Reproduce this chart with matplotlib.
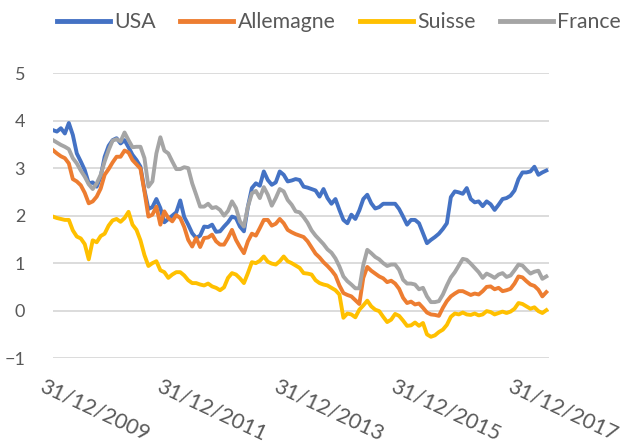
import numpy as np
import matplotlib
matplotlib.use("Agg")
import matplotlib.pyplot as plt
from matplotlib.transforms import ScaledTranslation

# 10-year yields (%), one reading per ~3 weeks
usa = [3.80, 3.77, 3.84, 3.73, 3.95, 3.70, 3.31, 3.14, 2.96, 2.68,
       2.70, 2.61, 2.82, 3.24, 3.47, 3.59, 3.63, 3.52, 3.59, 3.44,
       3.28, 3.17, 3.03, 2.54, 2.14, 2.18, 2.35, 2.16, 1.86, 1.93,
       2.00, 2.07, 2.32, 1.97, 1.81, 1.63, 1.53, 1.58, 1.77, 1.76,
       1.81, 1.66, 1.67, 1.77, 1.86, 1.98, 1.95, 1.77, 1.67, 2.19,
       2.58, 2.68, 2.63, 2.93, 2.75, 2.65, 2.70, 2.93, 2.86, 2.72,
       2.74, 2.77, 2.75, 2.61, 2.59, 2.56, 2.53, 2.40, 2.56, 2.37,
       2.25, 2.35, 2.12, 1.91, 1.84, 2.02, 1.93, 2.11, 2.35, 2.44,
       2.26, 2.15, 2.18, 2.25, 2.25, 2.25, 2.25, 2.14, 1.98, 1.81,
       1.91, 1.91, 1.84, 1.63, 1.42, 1.49, 1.55, 1.62, 1.72, 1.84,
       2.39, 2.51, 2.49, 2.46, 2.58, 2.35, 2.28, 2.30, 2.20, 2.30,
       2.24, 2.12, 2.23, 2.35, 2.37, 2.42, 2.53, 2.77, 2.91, 2.91,
       2.93, 3.03, 2.86, 2.91, 2.95]

allemagne = [3.38, 3.31, 3.25, 3.21, 3.10, 2.77, 2.72, 2.64, 2.48, 2.26,
             2.30, 2.40, 2.57, 2.86, 2.98, 3.12, 3.24, 3.24, 3.37, 3.33,
             3.17, 3.08, 2.99, 2.51, 1.98, 2.02, 2.19, 1.81, 2.09, 1.95,
             1.88, 2.01, 1.95, 1.76, 1.49, 1.35, 1.53, 1.34, 1.53, 1.54,
             1.60, 1.46, 1.39, 1.39, 1.53, 1.70, 1.49, 1.34, 1.21, 1.46,
             1.62, 1.58, 1.74, 1.91, 1.91, 1.79, 1.83, 1.93, 1.84, 1.70,
             1.65, 1.61, 1.58, 1.55, 1.46, 1.33, 1.20, 1.12, 1.02, 0.94,
             0.85, 0.74, 0.53, 0.37, 0.33, 0.30, 0.22, 0.14, 0.69, 0.92,
             0.84, 0.78, 0.72, 0.68, 0.60, 0.63, 0.57, 0.46, 0.27, 0.16,
             0.19, 0.13, 0.15, 0.06, -0.04, -0.08, -0.09, -0.11, 0.06, 0.20,
             0.30, 0.36, 0.41, 0.41, 0.37, 0.33, 0.36, 0.34, 0.41, 0.50,
             0.51, 0.45, 0.48, 0.41, 0.43, 0.46, 0.57, 0.72, 0.70, 0.62,
             0.55, 0.52, 0.44, 0.30, 0.39]

suisse = [1.98, 1.95, 1.93, 1.91, 1.91, 1.69, 1.56, 1.52, 1.40, 1.08,
          1.48, 1.44, 1.57, 1.62, 1.79, 1.90, 1.93, 1.87, 1.95, 2.08,
          1.81, 1.70, 1.48, 1.17, 0.94, 1.00, 1.04, 0.85, 0.81, 0.69,
          0.76, 0.81, 0.81, 0.74, 0.64, 0.58, 0.58, 0.55, 0.53, 0.57,
          0.51, 0.48, 0.43, 0.49, 0.69, 0.79, 0.76, 0.68, 0.58, 0.79,
          1.02, 1.00, 1.05, 1.14, 1.03, 0.99, 0.97, 1.04, 1.14, 1.04,
          1.00, 0.95, 0.90, 0.79, 0.78, 0.76, 0.64, 0.58, 0.55, 0.53,
          0.48, 0.43, 0.34, -0.15, -0.06, -0.08, -0.14, 0.02, 0.11, 0.21,
          0.09, 0.02, -0.01, -0.13, -0.24, -0.19, -0.07, -0.11, -0.21, -0.32,
          -0.31, -0.25, -0.32, -0.26, -0.50, -0.55, -0.52, -0.45, -0.40, -0.30,
          -0.13, -0.06, -0.08, -0.04, -0.08, -0.09, -0.06, -0.10, -0.08, -0.01,
          -0.03, -0.08, -0.05, -0.02, -0.05, -0.02, 0.04, 0.16, 0.14, 0.09,
          0.04, 0.07, -0.01, -0.05, 0.01]

france = [3.59, 3.54, 3.49, 3.45, 3.40, 3.21, 3.10, 2.95, 2.82, 2.66,
          2.56, 2.68, 2.86, 3.14, 3.38, 3.58, 3.61, 3.56, 3.75, 3.59,
          3.44, 3.45, 3.45, 3.21, 2.61, 2.72, 3.31, 3.65, 3.37, 3.31,
          3.14, 2.98, 2.98, 3.02, 3.00, 2.68, 2.44, 2.19, 2.19, 2.25,
          2.16, 2.18, 2.12, 2.00, 2.10, 2.30, 2.16, 1.88, 1.77, 2.19,
          2.47, 2.52, 2.37, 2.60, 2.44, 2.21, 2.37, 2.56, 2.51, 2.33,
          2.23, 2.09, 2.07, 1.97, 1.85, 1.69, 1.58, 1.49, 1.40, 1.29,
          1.22, 1.10, 0.93, 0.72, 0.62, 0.55, 0.47, 0.47, 0.96, 1.28,
          1.21, 1.13, 1.08, 1.00, 0.94, 0.97, 0.97, 0.86, 0.65, 0.57,
          0.57, 0.55, 0.45, 0.48, 0.30, 0.18, 0.18, 0.20, 0.34, 0.53,
          0.70, 0.81, 0.95, 1.09, 1.07, 0.99, 0.90, 0.81, 0.69, 0.78,
          0.74, 0.69, 0.76, 0.79, 0.71, 0.74, 0.85, 0.97, 0.95, 0.86,
          0.78, 0.82, 0.84, 0.67, 0.72]

tick_labels = ['31/12/2009', '31/12/2011', '31/12/2013', '31/12/2015', '31/12/2017']
label_every = 29.4  # points between two date labels (two years)

plt.rcParams['font.family'] = ['Lato', 'DejaVu Sans']

fig = plt.figure(figsize=(6.3, 4.46), dpi=100)
ax = fig.add_axes([0.084, 0.197, 0.787, 0.639])

x = np.arange(len(usa))
lw = 2.8
ax.plot(x, usa, color='#4472C4', lw=lw, label='USA', solid_joinstyle='round')
ax.plot(x, allemagne, color='#ED7D31', lw=lw, label='Allemagne', solid_joinstyle='round')
ax.plot(x, suisse, color='#FFC000', lw=lw, label='Suisse', solid_joinstyle='round')
ax.plot(x, france, color='#A5A5A5', lw=lw, label='France', solid_joinstyle='round')

ax.set_xlim(0, len(usa) - 0.4)
ax.set_ylim(-1, 5)
ax.set_yticks(range(-1, 6))
ax.grid(axis='y', color='#D9D9D9', lw=1.3)
ax.set_axisbelow(True)
for s in ax.spines.values():
    s.set_visible(False)

ax.tick_params(axis='y', length=0, pad=20, labelsize=13, labelcolor='#595959')
ax.tick_params(axis='x', length=0, pad=13, labelsize=15.5, labelcolor='#595959')

ax.set_xticks(np.arange(len(tick_labels)) * label_every)
ax.set_xticklabels(tick_labels, rotation=-25, ha='left', va='top', rotation_mode='anchor')
shift = ScaledTranslation(-8 / 100, 0, fig.dpi_scale_trans)
for lab in ax.get_xticklabels():
    lab.set_transform(lab.get_transform() + shift)

leg = fig.legend(loc='center', bbox_to_anchor=(0.538, 0.95), ncol=4, frameon=False,
                 fontsize=15.3, handlelength=2.5, handletextpad=0.2, columnspacing=1.15)
for t in leg.get_texts():
    t.set_color('#595959')
for h in leg.get_lines():
    h.set_linewidth(3.5)

fig.savefig('out.png', dpi=100)
